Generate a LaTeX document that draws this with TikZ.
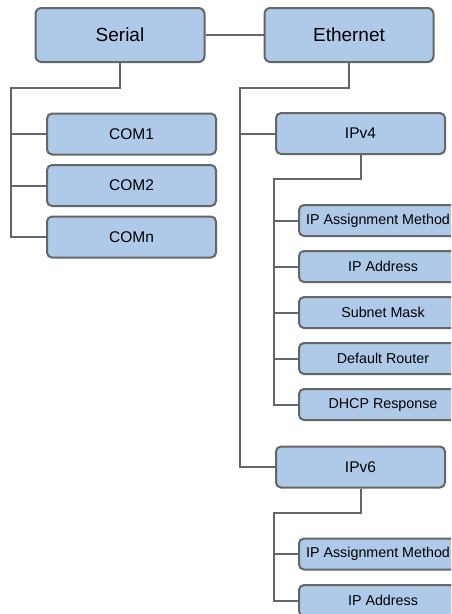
\documentclass[tikz,border=0pt]{standalone}
\usepackage{fontspec}
\setmainfont{Liberation Sans}
\definecolor{boxfill}{RGB}{175,201,232}
\definecolor{boxline}{RGB}{102,102,102}
\begin{document}
\begin{tikzpicture}[x=1pt,y=-1pt,
    group/.style={draw=boxline,fill=boxfill,line width=2pt,rounded corners=6pt,minimum width=169pt,minimum height=54pt,inner sep=0pt,font=\fontsize{19}{22}\selectfont},
    port/.style={group,minimum height=41pt,rounded corners=5pt,font=\fontsize{15.5}{18}\selectfont},
    field/.style={group,minimum width=168pt,minimum height=31pt,rounded corners=5pt,font=\fontsize{14.3}{17}\selectfont},
    link/.style={draw=boxline,line width=2pt}]
                \useasboundingbox (0,0) rectangle (451,614);
                \clip (0,0) rectangle (451,614);

                \node[group] (serial) at (120,35) {Serial};
                \node[group] (ethernet) at (349,35) {Ethernet};
                \node[port] (com1) at (131.5,134) {COM1};
                \node[port] (com2) at (131.5,185.5) {COM2};
                \node[port] (comn) at (131.5,237) {COMn};
                \node[port] (ipv4) at (360.5,133.5) {IPv4};
                \node[port] (ipv6) at (360.5,467) {IPv6};
                \node[field] (method4) at (383,220.5) {\hspace*{-10pt}IP Assignment Method};
                \node[field] (addr4) at (383,266.5) {IP Address};
                \node[field] (mask4) at (383,312.5) {Subnet Mask};
                \node[field] (router4) at (383,358.5) {Default Router};
                \node[field] (dhcp4) at (383,404.5) {DHCP Response};
                \node[field] (method6) at (383,554) {\hspace*{-10pt}IP Assignment Method};
                \node[field] (addr6) at (383,600.5) {IP Address};

                \coordinate (sj) at (11,88);
                \coordinate (ej) at (240,88);
                \coordinate (v4j) at (274,179);
                \coordinate (v6j) at (274,513);

                \draw[link] (serial) -- (ethernet);
                \draw[link] (serial.south) |- (sj) |- (comn.west); \draw[link] (sj |- com1.west) -- (com1.west); \draw[link] (sj |- com2.west) -- (com2.west);
                \draw[link] (ethernet.south) |- (ej) |- (ipv6.west); \draw[link] (ej |- ipv4.west) -- (ipv4.west);
                \draw[link] (ipv4.south) |- (v4j) |- (dhcp4.west); \draw[link] (v4j |- method4.west) -- (method4.west); \draw[link] (v4j |- addr4.west) -- (addr4.west);
                \draw[link] (v4j |- mask4.west) -- (mask4.west); \draw[link] (v4j |- router4.west) -- (router4.west);
                \draw[link] (ipv6.south) |- (v6j) |- (addr6.west); \draw[link] (v6j |- method6.west) -- (method6.west);
            \end{tikzpicture}
\end{document}
